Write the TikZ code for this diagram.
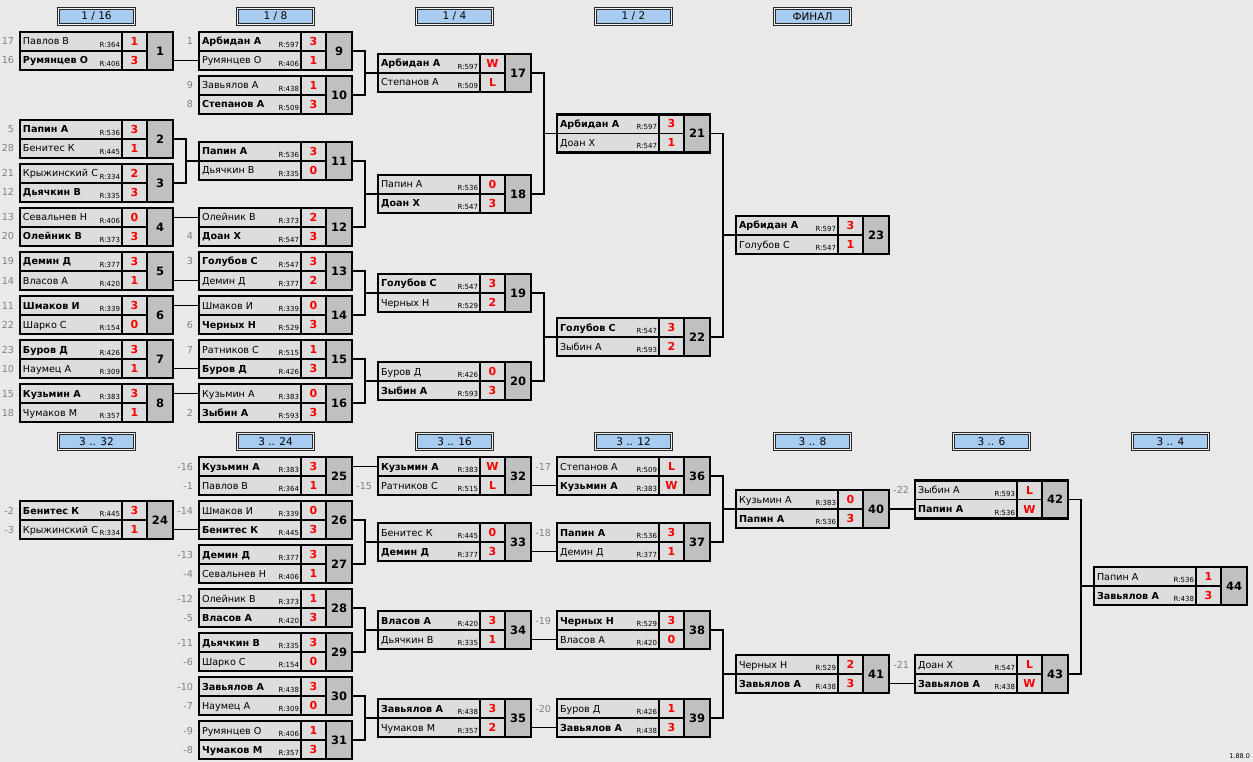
\documentclass[tikz,border=0pt]{standalone}
\usepackage{fontspec}
\setmainfont{DejaVu Sans}
\usetikzlibrary{calc}
\definecolor{bggray}{RGB}{233,233,233}
\definecolor{cellgray}{RGB}{221,221,221}
\definecolor{numgray}{RGB}{192,192,192}
\definecolor{headblue}{RGB}{168,204,240}
\definecolor{seedgray}{RGB}{128,128,128}
\definecolor{scorered}{RGB}{250,0,0}
\tikzset{x=1pt, y=-1pt,
  every node/.style={inner sep=0pt, outer sep=0pt},
  frame/.style={draw, line width=2.4pt, minimum width=153pt, minimum height=38pt,
    anchor=north west},
  numcell/.style={draw, fill=numgray, line width=2.4pt, minimum width=26pt,
    minimum height=38pt, anchor=north east, font=\fontsize{11.5}{13}\selectfont\bfseries},
  cellline/.style={line width=1.1pt},
  plname/.style={anchor=base west, font=\fontsize{9.6}{11}\selectfont},
  rating/.style={anchor=base east, font=\fontsize{7}{8}\selectfont},
  score/.style={anchor=base, text=scorered, font=\fontsize{11}{12}\selectfont\bfseries},
  seednum/.style={anchor=base east, text=seedgray, font=\fontsize{9.6}{11}\selectfont},
  headout/.style={draw=black!85, line width=1pt, fill=bggray!50!white,
    minimum width=78pt, minimum height=18pt},
  headin/.style={draw=black!85, line width=0.8pt, fill=headblue,
    minimum width=74.5pt, minimum height=14.5pt, font=\fontsize{10.5}{12}\selectfont},
  link/.style={line width=1.1pt}}

% winner is set bold
\newcommand\wn[1]{\textbf{#1}}

% one match box: number, left, top
\newcommand\match[3]{%
  \node[frame, fill=cellgray] (m#1) at (#2,#3) {};
  \draw[cellline] (m#1.west) -- ++(127,0)
    ($(m#1.north west)+(102,0)$) -- ++(0,38);
  \node[numcell] (m#1-num) at (m#1.north east) {#1};
}

% one player row: match, row, seed, name, rating, score
\newcommand\plr[6]{%
  \path (m#1.north west) ++(0,19*#2-9.5) coordinate (m#1-r#2);
  \node[seednum] (m#1-seed#2) at ([xshift=-6pt,yshift=-3.5pt]m#1-r#2) {#3};
  \node[plname] (m#1-name#2) at ([xshift=3pt,yshift=-3.5pt]m#1-r#2) {#4};
  \node[rating] (m#1-rate#2) at ([xshift=100pt,yshift=-6pt]m#1-r#2) {R:#5};
  \node[score] (m#1-score#2) at ([xshift=114.5pt,yshift=-4pt]m#1-r#2) {#6};
}

% round header: name, centre x, centre y, text
\newcommand\head[4]{%
  \node[headout] (#1) at (#2,#3) {};
  \node[headin] (#1-in) at (#1) {#4};
}

% winner goes straight on into row #3 of match #2
\newcommand\bye[3]{\draw[link] (m#1.east |- m#2-r#3) -- (m#2-r#3);}
% winners of #1 and #2 meet in #3
\newcommand\join[3]{%
  \draw[link] (m#1.east) -- ++(13,0) coordinate (j#3) |- (m#2.east);
  \draw[link] (j#3 |- m#3.west) -- (m#3.west);
}

\begin{document}
\begin{tikzpicture}
  \fill[bggray] (0,0) rectangle (1253,762);
  \useasboundingbox (0,0) rectangle (1253,762);

  % round headers
  \foreach \t [count=\i from 0] in {{1 / 16},{1 / 8},{1 / 4},{1 / 2},ФИНАЛ}
    \head{ht\i}{96.5+179*\i}{16.5}{\t};
  \foreach \t [count=\i from 0] in {{3 .. 32},{3 .. 24},{3 .. 16},{3 .. 12},{3 .. 8},{3 .. 6},{3 .. 4}}
    \head{hb\i}{96.5+179*\i}{441.5}{\t};

  % ---- main draw ----
  \match{1}{20}{32}
  \plr{1}{1}{17}{Павлов В}{364}{1}
  \plr{1}{2}{16}{\wn{Румянцев О}}{406}{3}
  \match{2}{20}{120}
  \plr{2}{1}{5}{\wn{Папин А}}{536}{3}
  \plr{2}{2}{28}{Бенитес К}{445}{1}
  \match{3}{20}{164}
  \plr{3}{1}{21}{Крыжинский С}{334}{2}
  \plr{3}{2}{12}{\wn{Дьячкин В}}{335}{3}
  \match{4}{20}{208}
  \plr{4}{1}{13}{Севальнев Н}{406}{0}
  \plr{4}{2}{20}{\wn{Олейник В}}{373}{3}
  \match{5}{20}{252}
  \plr{5}{1}{19}{\wn{Демин Д}}{377}{3}
  \plr{5}{2}{14}{Власов А}{420}{1}
  \match{6}{20}{296}
  \plr{6}{1}{11}{\wn{Шмаков И}}{339}{3}
  \plr{6}{2}{22}{Шарко С}{154}{0}
  \match{7}{20}{340}
  \plr{7}{1}{23}{\wn{Буров Д}}{426}{3}
  \plr{7}{2}{10}{Наумец А}{309}{1}
  \match{8}{20}{384}
  \plr{8}{1}{15}{\wn{Кузьмин А}}{383}{3}
  \plr{8}{2}{18}{Чумаков М}{357}{1}

  \match{9}{199}{32}
  \plr{9}{1}{1}{\wn{Арбидан А}}{597}{3}
  \plr{9}{2}{}{Румянцев О}{406}{1}
  \match{10}{199}{76}
  \plr{10}{1}{9}{Завьялов А}{438}{1}
  \plr{10}{2}{8}{\wn{Степанов А}}{509}{3}
  \match{11}{199}{142}
  \plr{11}{1}{}{\wn{Папин А}}{536}{3}
  \plr{11}{2}{}{Дьячкин В}{335}{0}
  \match{12}{199}{208}
  \plr{12}{1}{}{Олейник В}{373}{2}
  \plr{12}{2}{4}{\wn{Доан Х}}{547}{3}
  \match{13}{199}{252}
  \plr{13}{1}{3}{\wn{Голубов С}}{547}{3}
  \plr{13}{2}{}{Демин Д}{377}{2}
  \match{14}{199}{296}
  \plr{14}{1}{}{Шмаков И}{339}{0}
  \plr{14}{2}{6}{\wn{Черных Н}}{529}{3}
  \match{15}{199}{340}
  \plr{15}{1}{7}{Ратников С}{515}{1}
  \plr{15}{2}{}{\wn{Буров Д}}{426}{3}
  \match{16}{199}{384}
  \plr{16}{1}{}{Кузьмин А}{383}{0}
  \plr{16}{2}{2}{\wn{Зыбин А}}{593}{3}

  \match{17}{378}{54}
  \plr{17}{1}{}{\wn{Арбидан А}}{597}{W}
  \plr{17}{2}{}{Степанов А}{509}{L}
  \match{18}{378}{175}
  \plr{18}{1}{}{Папин А}{536}{0}
  \plr{18}{2}{}{\wn{Доан Х}}{547}{3}
  \match{19}{378}{274}
  \plr{19}{1}{}{\wn{Голубов С}}{547}{3}
  \plr{19}{2}{}{Черных Н}{529}{2}
  \match{20}{378}{362}
  \plr{20}{1}{}{Буров Д}{426}{0}
  \plr{20}{2}{}{\wn{Зыбин А}}{593}{3}

  \match{21}{557}{114.5}
  \plr{21}{1}{}{\wn{Арбидан А}}{597}{3}
  \plr{21}{2}{}{Доан Х}{547}{1}
  \match{22}{557}{318}
  \plr{22}{1}{}{\wn{Голубов С}}{547}{3}
  \plr{22}{2}{}{Зыбин А}{593}{2}

  \match{23}{736}{216}
  \plr{23}{1}{}{\wn{Арбидан А}}{597}{3}
  \plr{23}{2}{}{Голубов С}{547}{1}

  \bye{1}{9}{2}
  \join{2}{3}{11}
  \bye{4}{12}{1}
  \bye{5}{13}{2}
  \bye{6}{14}{1}
  \bye{7}{15}{2}
  \bye{8}{16}{1}
  \join{9}{10}{17}
  \join{11}{12}{18}
  \join{13}{14}{19}
  \join{15}{16}{20}
  \join{17}{18}{21}
  \join{19}{20}{22}
  \join{21}{22}{23}

  % ---- places 3 and lower ----
  \match{24}{20}{501}
  \plr{24}{1}{-2}{\wn{Бенитес К}}{445}{3}
  \plr{24}{2}{-3}{Крыжинский С}{334}{1}

  \match{25}{199}{457}
  \plr{25}{1}{-16}{\wn{Кузьмин А}}{383}{3}
  \plr{25}{2}{-1}{Павлов В}{364}{1}
  \match{26}{199}{501}
  \plr{26}{1}{-14}{Шмаков И}{339}{0}
  \plr{26}{2}{}{\wn{Бенитес К}}{445}{3}
  \match{27}{199}{545}
  \plr{27}{1}{-13}{\wn{Демин Д}}{377}{3}
  \plr{27}{2}{-4}{Севальнев Н}{406}{1}
  \match{28}{199}{589}
  \plr{28}{1}{-12}{Олейник В}{373}{1}
  \plr{28}{2}{-5}{\wn{Власов А}}{420}{3}
  \match{29}{199}{633}
  \plr{29}{1}{-11}{\wn{Дьячкин В}}{335}{3}
  \plr{29}{2}{-6}{Шарко С}{154}{0}
  \match{30}{199}{677}
  \plr{30}{1}{-10}{\wn{Завьялов А}}{438}{3}
  \plr{30}{2}{-7}{Наумец А}{309}{0}
  \match{31}{199}{721}
  \plr{31}{1}{-9}{Румянцев О}{406}{1}
  \plr{31}{2}{-8}{\wn{Чумаков М}}{357}{3}

  \match{32}{378}{457}
  \plr{32}{1}{}{\wn{Кузьмин А}}{383}{W}
  \plr{32}{2}{-15}{Ратников С}{515}{L}
  \match{33}{378}{523}
  \plr{33}{1}{}{Бенитес К}{445}{0}
  \plr{33}{2}{}{\wn{Демин Д}}{377}{3}
  \match{34}{378}{611}
  \plr{34}{1}{}{\wn{Власов А}}{420}{3}
  \plr{34}{2}{}{Дьячкин В}{335}{1}
  \match{35}{378}{699}
  \plr{35}{1}{}{\wn{Завьялов А}}{438}{3}
  \plr{35}{2}{}{Чумаков М}{357}{2}

  \match{36}{557}{457}
  \plr{36}{1}{-17}{Степанов А}{509}{L}
  \plr{36}{2}{}{\wn{Кузьмин А}}{383}{W}
  \match{37}{557}{523}
  \plr{37}{1}{-18}{\wn{Папин А}}{536}{3}
  \plr{37}{2}{}{Демин Д}{377}{1}
  \match{38}{557}{611}
  \plr{38}{1}{-19}{\wn{Черных Н}}{529}{3}
  \plr{38}{2}{}{Власов А}{420}{0}
  \match{39}{557}{699}
  \plr{39}{1}{-20}{Буров Д}{426}{1}
  \plr{39}{2}{}{\wn{Завьялов А}}{438}{3}

  \match{40}{736}{490}
  \plr{40}{1}{}{Кузьмин А}{383}{0}
  \plr{40}{2}{}{\wn{Папин А}}{536}{3}
  \match{41}{736}{655}
  \plr{41}{1}{}{Черных Н}{529}{2}
  \plr{41}{2}{}{\wn{Завьялов А}}{438}{3}

  \match{42}{915}{480.5}
  \plr{42}{1}{-22}{Зыбин А}{593}{L}
  \plr{42}{2}{}{\wn{Папин А}}{536}{W}
  \match{43}{915}{655}
  \plr{43}{1}{-21}{Доан Х}{547}{L}
  \plr{43}{2}{}{\wn{Завьялов А}}{438}{W}

  \match{44}{1094}{567}
  \plr{44}{1}{}{Папин А}{536}{1}
  \plr{44}{2}{}{\wn{Завьялов А}}{438}{3}

  \bye{24}{26}{2}
  \bye{25}{32}{1}
  \join{26}{27}{33}
  \join{28}{29}{34}
  \join{30}{31}{35}
  \bye{32}{36}{2}
  \bye{33}{37}{2}
  \bye{34}{38}{2}
  \bye{35}{39}{2}
  \join{36}{37}{40}
  \join{38}{39}{41}
  \bye{40}{42}{2}
  \bye{41}{43}{2}
  \join{42}{43}{44}

  \node[anchor=south east, font=\fontsize{6.5}{8}\selectfont] (ver) at (1250,759) {1.88.0};
\end{tikzpicture}
\end{document}
